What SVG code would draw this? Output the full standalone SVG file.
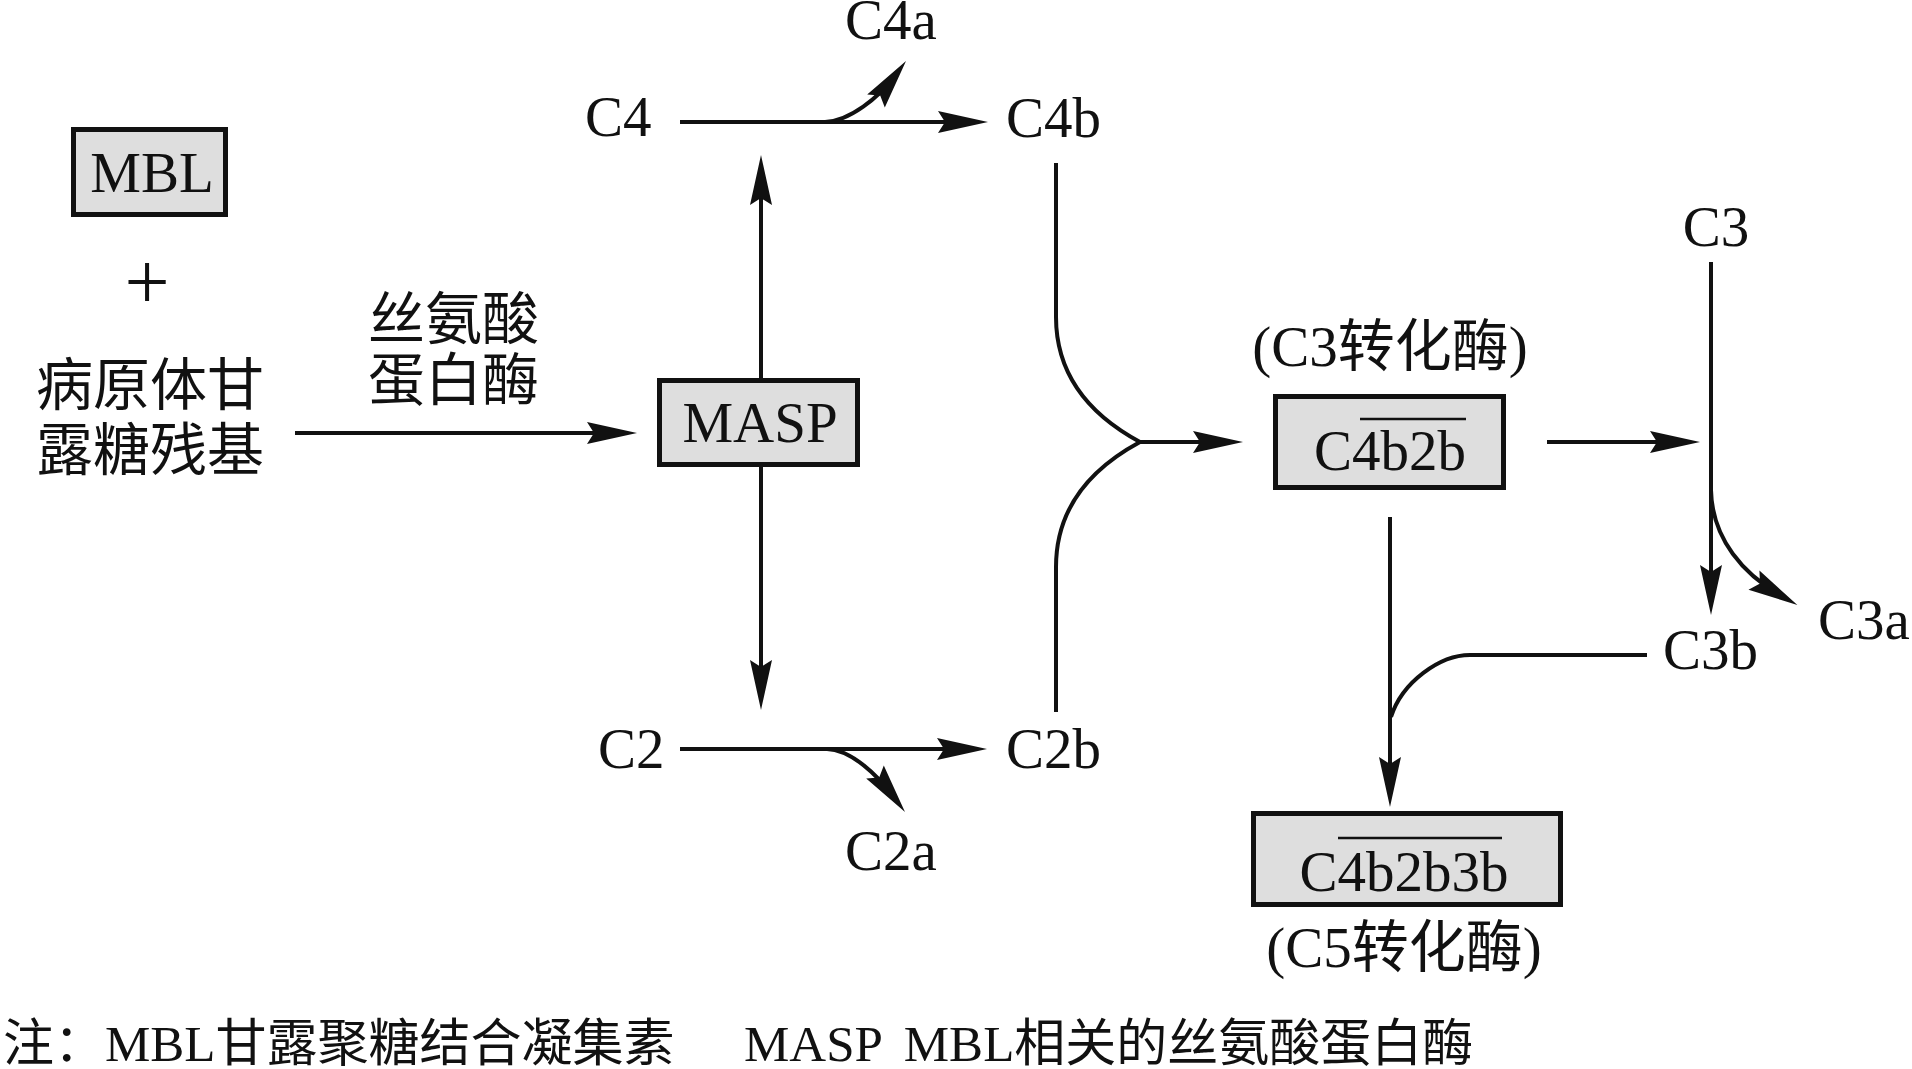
<svg xmlns="http://www.w3.org/2000/svg" width="1912" height="1069" viewBox="0 0 1912 1069">
<style>
.t{font-family:"Liberation Serif","Noto Sans CJK SC",serif;font-size:57px;fill:#111}
.cj{font-family:"Noto Sans CJK SC","Liberation Serif",sans-serif;font-size:57px;fill:#111}
.fn{font-family:"Liberation Serif","Noto Sans CJK SC",serif;font-size:51px;fill:#111}
.box{fill:#dedede;stroke:#111;stroke-width:5}
.ln{fill:none;stroke:#111;stroke-width:4}
.ar{fill:none;stroke:#111;stroke-width:4;marker-end:url(#ah)}
.ov{stroke:#111;stroke-width:2.5}
</style>
<defs>
<marker id="ah" markerUnits="userSpaceOnUse" viewBox="0 0 52 24" markerWidth="52" markerHeight="24" refX="30" refY="11" orient="auto" overflow="visible">
<path d="M50,11 L0,0 L7,11 L0,22 Z" fill="#111"/>
</marker>
</defs>
<rect width="1912" height="1069" fill="#fff"/>

<g id="connectors">
<path class="ar" d="M295,433 L617,433"/>
<path class="ar" d="M761,378 L761,175"/>
<path class="ar" d="M761,467 L761,690"/>
<path class="ar" d="M680,122 L968,122"/>
<path class="ar" d="M825,122 C850,121 879,97 894,77"/>
<path class="ar" d="M680,749 L967,749"/>
<path class="ar" d="M827,749 C852,750 878,776 893,796"/>
<path class="ln" d="M1056,163 L1056,317 C1056,375 1090,415 1140,442"/>
<path class="ln" d="M1056,712 L1056,567 C1056,509 1090,469 1140,442"/>
<path class="ar" d="M1140,442 L1223,442"/>
<path class="ar" d="M1547,442 L1680,442"/>
<path class="ar" d="M1711,262 L1711,595"/>
<path class="ar" d="M1711,490 C1712,540 1745,575 1780,595"/>
<path class="ar" d="M1390,517 L1390,787"/>
<path class="ln" d="M1647,655 L1470,655 C1440,655 1402,682 1391,717"/>
</g>

<g id="node-mbl">
<rect class="box" x="73.5" y="129.5" width="152" height="85"/>
<text class="t" x="152" y="192" text-anchor="middle">MBL</text>
</g>
<g id="node-plus">
<text class="t" x="147" y="309" text-anchor="middle" style="font-size:80px">+</text>
</g>
<g id="node-pathogen">
<text class="cj" x="36" y="405">病原体甘</text>
<text class="cj" x="36" y="470">露糖残基</text>
</g>
<g id="label-serine">
<text class="cj" x="368" y="339">丝氨酸</text>
<text class="cj" x="368" y="400">蛋白酶</text>
</g>
<g id="node-masp">
<rect class="box" x="659.5" y="380.5" width="198" height="84"/>
<text class="t" x="760" y="442" text-anchor="middle">MASP</text>
</g>
<g id="node-c4"><text class="t" x="585" y="136">C4</text></g>
<g id="node-c4a"><text class="t" x="845" y="39">C4a</text></g>
<g id="node-c4b"><text class="t" x="1006" y="137">C4b</text></g>
<g id="node-c2"><text class="t" x="598" y="768">C2</text></g>
<g id="node-c2a"><text class="t" x="845" y="870">C2a</text></g>
<g id="node-c2b"><text class="t" x="1006" y="768">C2b</text></g>
<g id="node-c3conv">
<text class="t" x="1390" y="366" text-anchor="middle">(C3转化酶)</text>
<rect class="box" x="1275.5" y="396.5" width="228" height="91"/>
<line class="ov" x1="1360" y1="419" x2="1466" y2="419"/>
<text class="t" x="1390" y="470" text-anchor="middle">C4b2b</text>
</g>
<g id="node-c3"><text class="t" x="1716" y="246" text-anchor="middle">C3</text></g>
<g id="node-c3a"><text class="t" x="1818" y="639">C3a</text></g>
<g id="node-c3b"><text class="t" x="1663" y="669">C3b</text></g>
<g id="node-c5conv">
<rect class="box" x="1253.5" y="813.5" width="307" height="91"/>
<line class="ov" x1="1338" y1="838" x2="1502" y2="838"/>
<text class="t" x="1404" y="891" text-anchor="middle">C4b2b3b</text>
<text class="t" x="1404" y="967" text-anchor="middle">(C5转化酶)</text>
</g>
<g id="footnote">
<text class="fn" x="3" y="1061">注：MBL甘露聚糖结合凝集素</text>
<text class="fn" x="744" y="1061">MASP <tspan dx="10">MBL相关的丝氨酸蛋白酶</tspan></text>
</g>
</svg>
